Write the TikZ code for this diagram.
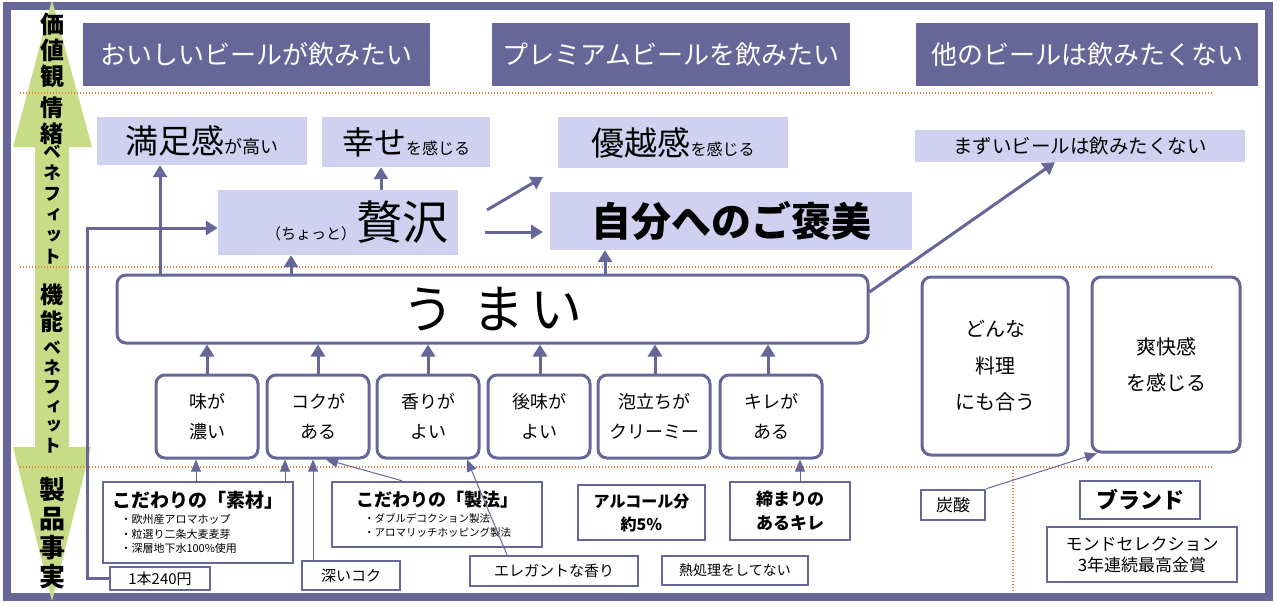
\documentclass[tikz,border=0pt]{standalone}
\usepackage{fontspec}
\setmainfont{Noto Sans CJK JP}
\newfontfamily\jpv{Noto Sans CJK JP}[RawFeature=+vert]
\usepackage{tikz}
\usetikzlibrary{arrows.meta}
\usetikzlibrary{positioning}

\definecolor{purp}{RGB}{102,102,153}
\definecolor{lav}{RGB}{208,208,240}
\definecolor{leaf}{RGB}{200,220,135}
\definecolor{dotorange}{RGB}{237,125,49}

\newcommand{\fsz}[1]{\fontsize{#1}{#1}\selectfont}

\tikzset{
  hdr/.style={fill=purp, text=white, inner sep=0pt, font=\fsz{26}},
  benefit/.style={fill=lav, inner sep=0pt},
  rbox/.style={draw=purp, line width=3pt, rounded corners=9pt, fill=white, inner sep=0pt, align=center},
  fact/.style={draw=purp, line width=2.5pt, fill=white, inner sep=0pt, align=center},
  sep/.style={dotorange, line width=1.2pt, dash pattern=on 1.2pt off 1.8pt},
  thk/.style={purp, line width=3pt, -{Triangle[width=14pt,length=12pt]}},
  thn/.style={purp, line width=1pt, -{Triangle[width=10pt,length=12pt]}},
  axislbl/.style={align=center, inner sep=0pt},
}

\begin{document}
\begin{tikzpicture}[x=1pt,y=-1pt]
\useasboundingbox (0,0) rectangle (1280,605);
\draw[purp, line width=8pt] (7,5.5) rectangle (1269,597);
\fill[leaf] (52,0) -- (92,147) -- (69,147) -- (69,447) -- (91,447) -- (52,601) -- (13,447) -- (35,447) -- (35,147) -- (13,147) -- cycle;
\draw[sep] (20,93) -- (1213,93);
\draw[sep] (20,267) -- (1213,267);
\draw[sep] (20,467) -- (1213,467);
\draw[sep] (1013,467) -- (1013,592);

\node[axislbl, font=\jpv\bfseries\fontsize{24}{26}\selectfont] (kachikan) at (52,50) {価\\値\\観};
\node[axislbl, font=\jpv\bfseries\fontsize{23}{26}\selectfont] (jocho) at (52,121) {情\\緒};
\node[axislbl, font=\jpv\bfseries\fontsize{18}{21}\selectfont] (jochoben) at (52,205) {ベ\\ネ\\フ\\ィ\\ッ\\ト};
\node[axislbl, font=\jpv\bfseries\fontsize{23}{27}\selectfont] (kino) at (52,308) {機\\能};
\node[axislbl, font=\jpv\bfseries\fontsize{18}{19.5}\selectfont] (kinoben) at (52,397) {ベ\\ネ\\フ\\ィ\\ッ\\ト};
\node[axislbl, font=\jpv\bfseries\fontsize{26}{29}\selectfont] (jijitsu) at (52,533) {製\\品\\事\\実};

\node[hdr, minimum width=347, minimum height=63] (oishii) at (256.5,54.5) {おいしいビールが飲みたい};
\node[hdr, minimum width=358, minimum height=63] (premium) at (671,54.5) {プレミアムビールを飲みたい};
\node[hdr, minimum width=342, minimum height=63] (hoka) at (1087,54.5) {他のビールは飲みたくない};

\node[benefit, minimum width=210, minimum height=48] (manzoku) at (202,141) {\fsz{33}満足感\fsz{18}が高い};
\node[benefit, minimum width=168, minimum height=50] (shiawase) at (406,142) {\fsz{32}幸せ\fsz{16}を感じる};
\node[benefit, minimum width=230, minimum height=51] (yuetsu) at (673,142.5) {\fsz{33}優越感\fsz{16}を感じる};
\node[benefit, minimum width=330, minimum height=32, font=\fsz{19.5}] (mazui) at (1080,146) {まずいビールは飲みたくない};
\node[benefit, minimum width=240, minimum height=65] (zeitaku) at (338,222.5) {\hspace*{38pt}\fsz{15}（ちょっと）\fsz{46}贅沢};
\node[benefit, minimum width=362, minimum height=58, font=\bfseries\fsz{40}] (gohobi) at (731,221) {自分へのご褒美};

\node[rbox, minimum width=751, minimum height=68, font=\fsz{52}] (umai) at (492.5,309) {う\hspace{18pt}ま\hspace{6pt}い};

\node[rbox, minimum width=102, minimum height=83, font=\fontsize{18}{30}\selectfont] (aji) at (207,416.5) {味が\\濃い};
\node[rbox, minimum width=102, minimum height=83, font=\fontsize{18}{30}\selectfont] (koku) at (318,416.5) {コクが\\ある};
\node[rbox, minimum width=102, minimum height=83, font=\fontsize{18}{30}\selectfont] (kaori) at (428,416.5) {香りが\\よい};
\node[rbox, minimum width=102, minimum height=83, font=\fontsize{18}{30}\selectfont] (atoaji) at (539,416.5) {後味が\\よい};
\node[rbox, minimum width=112, minimum height=83, font=\fontsize{18}{30}\selectfont] (awa) at (654,416.5) {泡立ちが\\クリーミー};
\node[rbox, minimum width=102, minimum height=83, font=\fontsize{18}{30}\selectfont] (kire) at (771,416.5) {キレが\\ある};

\node[rbox, minimum width=146, minimum height=178, font=\fontsize{20}{36.5}\selectfont] (ryori) at (995,366) {どんな\\料理\\にも合う};
\node[rbox, minimum width=148, minimum height=175, font=\fontsize{20}{36}\selectfont] (sokai) at (1166,364.5) {爽快感\\を感じる};

\node[fact, minimum width=190, minimum height=81, align=left, font=\fontsize{11}{14.5}\selectfont] (sozai) at (198,522.5) {{\fsz{19}\bfseries こだわりの「素材」}\\[2pt]\hspace*{8pt}・欧州産アロマホップ\\\hspace*{8pt}・粒選り二条大麦麦芽\\\hspace*{8pt}・深層地下水100\%使用};
\node[fact, minimum width=100, minimum height=23, font=\fsz{15}] (price) at (160,578.5) {1本240円};
\node[fact, minimum width=98, minimum height=29, font=\fsz{15}] (fukai) at (351,575.5) {深いコク};
\node[fact, minimum width=210, minimum height=65, align=left, font=\fontsize{10.5}{14}\selectfont] (seiho) at (437,514.5) {{\fsz{18}\bfseries こだわりの「製法」}\\[2pt]\hspace*{8pt}・ダブルデコクション製法\\\hspace*{8pt}・アロマリッチホッピング製法};
\node[fact, minimum width=168, minimum height=30, font=\fsz{15}] (elegant) at (554,571) {エレガントな香り};
\node[fact, minimum width=127, minimum height=55, font=\bfseries\fontsize{16}{23}\selectfont] (alc) at (641.5,512.5) {アルコール分\\約5\%};
\node[fact, minimum width=146, minimum height=29, font=\fsz{14}] (netsu) at (735,570.5) {熱処理をしてない};
\node[fact, minimum width=120, minimum height=58, font=\bfseries\fontsize{17}{24}\selectfont] (shimari) at (790,511) {締まりの\\あるキレ};
\node[fact, minimum width=64, minimum height=30, font=\fsz{17}] (tansan) at (953,505) {炭酸};
\node[fact, minimum width=120, minimum height=38, font=\bfseries\fsz{22}] (brand) at (1140,500) {ブランド};
\node[fact, minimum width=190, minimum height=55, font=\fontsize{17}{21}\selectfont] (monde) at (1142,554.5) {モンドセレクション\\3年連続最高金賞};

\draw[thk] (160,0 |- umai.north) -- (160,0 |- manzoku.south);
\draw[thk] (291,0 |- umai.north) -- (291,0 |- zeitaku.south);
\draw[thk] (381,0 |- zeitaku.north) -- (381,0 |- shiawase.south);
\coordinate (up1) at (487,210);
\coordinate (up2) at (543,177);
\draw[thk] (up1) -- (up2);
\coordinate (rt1) at (485,232);
\coordinate (rt2) at (543,232);
\draw[thk] (rt1) -- (rt2);
\draw[thk] (605,0 |- umai.north) -- (605,0 |- gohobi.south);
\draw[thk] (umai.east |- 0,292) -- (1055,0 |- mazui.south);
\draw[thk] (price.west) -- (87,0 |- price.west) -- (87,228) -- (zeitaku.west |- 0,228);

\draw[thk] (207,0 |- aji.north) -- (207,0 |- umai.south);
\draw[thk] (318,0 |- koku.north) -- (318,0 |- umai.south);
\draw[thk] (428,0 |- kaori.north) -- (428,0 |- umai.south);
\draw[thk] (540,0 |- atoaji.north) -- (540,0 |- umai.south);
\draw[thk] (655,0 |- awa.north) -- (655,0 |- umai.south);
\draw[thk] (768,0 |- kire.north) -- (768,0 |- umai.south);

\draw[thn] (196,0 |- sozai.north) -- (196,0 |- aji.south);
\draw[thn] (285,0 |- sozai.north) -- (285,0 |- koku.south);
\draw[thn] (313,0 |- fukai.north) -- (313,0 |- koku.south);
\draw[thn] (402,0 |- seiho.north) -- (326,0 |- koku.south);
\draw[thn] (507,0 |- elegant.north) -- (467,0 |- kaori.south);
\draw[thn] (800,0 |- shimari.north) -- (800,0 |- kire.south);
\draw[thn] (tansan.north east) -- (1097,0 |- sokai.south);
\end{tikzpicture}
\end{document}
